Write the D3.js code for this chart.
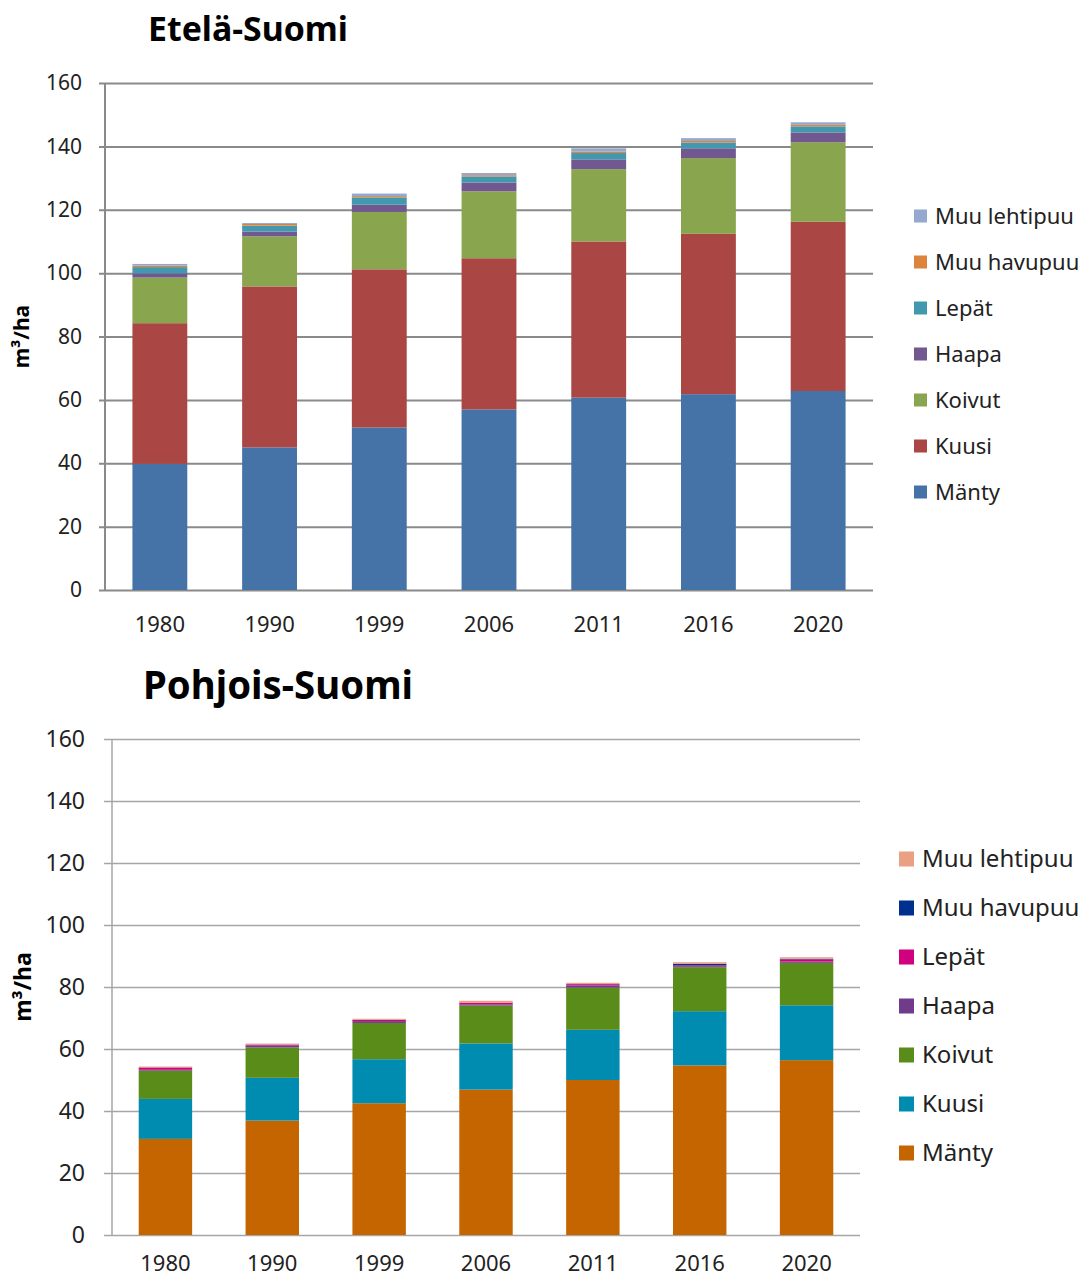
<!DOCTYPE html>
<html>
<head>
<meta charset="utf-8">
<script src="https://cdn.jsdelivr.net/npm/d3@7"></script>
<style>
  html, body { margin: 0; padding: 0; background: #fff; }
  svg { display: block; font-family: "Noto Sans", "Open Sans", sans-serif; }
</style>
</head>
<body>
<svg id="chart" width="1081" height="1282"></svg>
<script>
// ---- data ----
const years = ["1980", "1990", "1999", "2006", "2011", "2016", "2020"];
const species = ["Mänty", "Kuusi", "Koivut", "Haapa", "Lepät", "Muu havupuu", "Muu lehtipuu"];
const yTicks = [0, 20, 40, 60, 80, 100, 120, 140, 160];

// Etelä-Suomi (m³/ha)
const southManty    = [39.8, 45.0, 51.3, 57.0, 60.7, 61.8, 62.8];
const southKuusi    = [44.4, 50.8, 49.9, 47.7, 49.3, 50.6, 53.4];
const southKoivut   = [14.4, 15.8, 18.1, 21.1, 22.8, 23.9, 25.1];
const southHaapa    = [1.3, 1.5, 2.3, 2.8, 3.1, 3.1, 3.1];
const southLepat    = [2.0, 1.9, 2.3, 1.9, 2.0, 1.8, 1.9];
const southMuuHavu  = [0.5, 0.5, 0.4, 0.4, 0.5, 0.5, 0.5];
const southMuuLehti = [0.5, 0.3, 0.8, 0.7, 1.0, 0.9, 0.8];

// Pohjois-Suomi (m³/ha)
const northManty    = [31.0, 36.9, 42.5, 46.9, 50.0, 54.7, 56.4];
const northKuusi    = [12.9, 13.8, 14.2, 14.9, 16.2, 17.5, 17.7];
const northKoivut   = [9.1, 9.8, 11.7, 12.2, 13.6, 14.2, 13.7];
const northHaapa    = [0.3, 0.6, 0.6, 0.4, 0.7, 0.3, 0.4];
const northLepat    = [0.7, 0.3, 0.4, 0.5, 0.4, 0.3, 0.7];
const northMuuHavu  = [0.05, 0.05, 0.05, 0.05, 0.05, 0.5, 0.2];
const northMuuLehti = [0.3, 0.3, 0.3, 0.6, 0.4, 0.5, 0.5];

const southColors = ["#4572A7", "#AA4643", "#89A54E", "#71588F", "#4198AF", "#DB843D", "#93A9CF"];
const northColors = ["#C46500", "#008BB0", "#5A8C1A", "#6F3B8A", "#D0007F", "#00308D", "#E9A083"];

const southSeries = [southManty, southKuusi, southKoivut, southHaapa, southLepat, southMuuHavu, southMuuLehti];
const northSeries = [northManty, northKuusi, northKoivut, northHaapa, northLepat, northMuuHavu, northMuuLehti];

const svg = d3.select("#chart");

function drawChart(cfg) {
  const rows = years.map((yr, i) => {
    const r = { year: yr };
    species.forEach((s, k) => { r[s] = cfg.series[k][i]; });
    return r;
  });
  const stacked = d3.stack().keys(species)(rows);
  const color = d3.scaleOrdinal().domain(species).range(cfg.colors);

  const x = d3.scaleBand().domain(years).range([cfg.left, cfg.right])
    .paddingInner(0.5).paddingOuter(0.25);
  const y = d3.scaleLinear().domain([0, 160]).range([cfg.bottom, cfg.top]);

  const g = svg.append("g");

  // title
  g.append("text")
    .attr("x", cfg.titleX).attr("y", cfg.titleY)
    .attr("font-size", cfg.titleSize).attr("font-weight", "bold")
    .attr("textLength", cfg.titleLen).attr("lengthAdjust", "spacingAndGlyphs")
    .attr("fill", "#000")
    .text(cfg.title);

  // y axis with gridlines
  const yAxis = d3.axisLeft(y).tickValues(yTicks)
    .tickSize(0)
    .tickPadding(cfg.tickPad)
    .tickFormat(d3.format("d"));
  const ga = g.append("g")
    .attr("transform", `translate(${cfg.left - cfg.tickOut},0)`)
    .call(yAxis);
  ga.select(".domain").remove();
  ga.selectAll(".tick line")
    .attr("stroke", cfg.gridColor).attr("stroke-width", cfg.gridW)
    .attr("x1", 0).attr("x2", cfg.right - cfg.left + cfg.tickOut);
  ga.selectAll(".tick text")
    .attr("font-size", cfg.tickSize).attr("fill", "#222")
    .attr("font-family", "\"Noto Sans\", sans-serif")
    .attr("x", -cfg.tickPad);

  // bars
  g.append("g").selectAll("g")
    .data(stacked)
    .join("g")
    .attr("fill", d => color(d.key))
    .selectAll("rect")
    .data(d => d)
    .join("rect")
    .attr("x", d => x(d.data.year))
    .attr("width", x.bandwidth())
    .attr("y", d => y(d[1]))
    .attr("height", d => Math.max(0, y(d[0]) - y(d[1])));

  // y axis line
  g.append("line")
    .attr("x1", cfg.left).attr("x2", cfg.left)
    .attr("y1", cfg.top).attr("y2", cfg.bottom)
    .attr("stroke", cfg.gridColor).attr("stroke-width", cfg.gridW);

  // x axis labels
  const xAxis = d3.axisBottom(x).tickSize(0).tickPadding(cfg.xPad);
  const gx = g.append("g").attr("transform", `translate(0,${cfg.bottom})`).call(xAxis);
  gx.select(".domain").remove();
  gx.selectAll(".tick text")
    .attr("font-size", cfg.xSize).attr("fill", "#222")
    .attr("font-family", "\"Noto Sans\", sans-serif");

  // y label
  g.append("text")
    .attr("transform", `translate(${cfg.yLabelX},${(cfg.top + cfg.bottom) / 2 + cfg.yLabelDy}) rotate(-90)`)
    .attr("text-anchor", "middle")
    .attr("font-size", cfg.yLabelSize).attr("font-weight", "bold")
    .attr("fill", "#000")
    .text("m³/ha");

  // legend (top to bottom: reversed species order)
  const legendItems = species.slice().reverse();
  const lg = g.append("g");
  legendItems.forEach((s, i) => {
    const cy = cfg.legY + i * cfg.legStep;
    lg.append("rect")
      .attr("x", cfg.legX).attr("y", cy - cfg.sw / 2)
      .attr("width", cfg.sw).attr("height", cfg.sw)
      .attr("fill", color(s));
    lg.append("text")
      .attr("x", cfg.legX + cfg.sw + cfg.legGap).attr("y", cy)
      .attr("dy", "0.35em")
      .attr("font-size", cfg.legSize).attr("fill", "#222")
      .text(s);
  });
}

drawChart({
  title: "Etelä-Suomi", titleX: 148, titleY: 41, titleSize: 34, titleLen: 200,
  series: southSeries, colors: southColors,
  left: 105, right: 873, top: 83, bottom: 590,
  tickOut: 6, tickPad: 17, tickSize: 21, gridColor: "#8a8a8a", gridW: 2,
  xPad: 26, xSize: 22,
  yLabelX: 29, yLabelDy: 0, yLabelSize: 21,
  legX: 914, legY: 216, legStep: 46, sw: 13, legGap: 8, legSize: 22
});

drawChart({
  title: "Pohjois-Suomi", titleX: 143, titleY: 699, titleSize: 39, titleLen: 270,
  series: northSeries, colors: northColors,
  left: 112, right: 860, top: 739, bottom: 1235,
  tickOut: 8, tickPad: 19, tickSize: 23, gridColor: "#a6a6a6", gridW: 1.5,
  xPad: 20, xSize: 22,
  yLabelX: 31, yLabelDy: 0, yLabelSize: 23,
  legX: 899, legY: 859, legStep: 49, sw: 15, legGap: 8, legSize: 24
});
</script>
</body>
</html>
